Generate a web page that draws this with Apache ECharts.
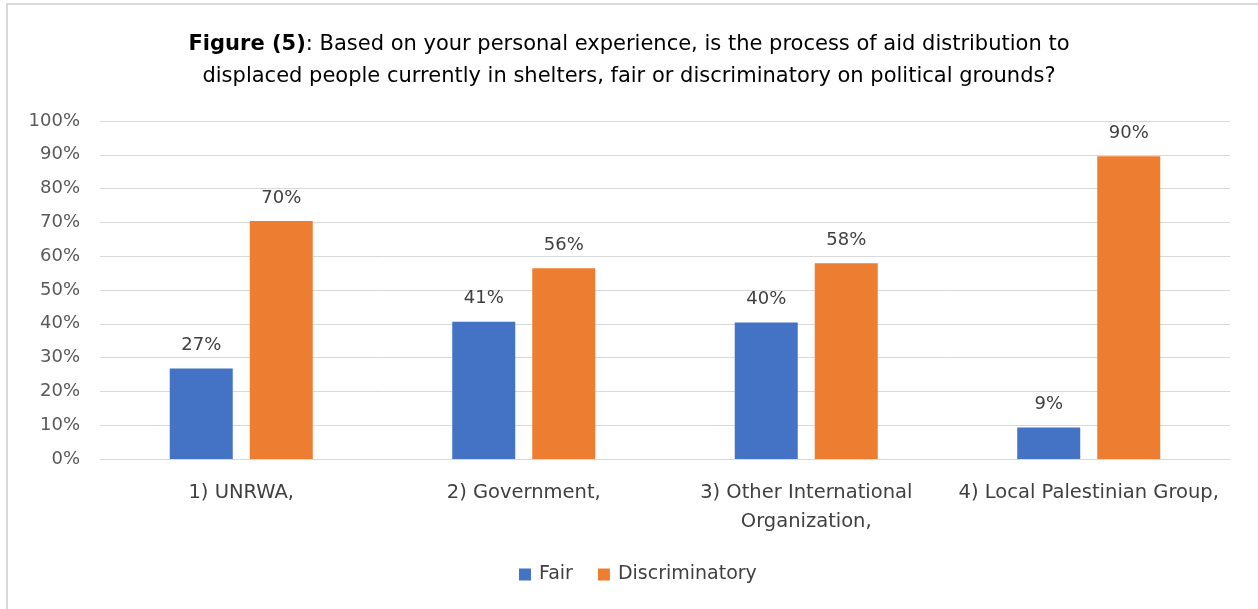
<!DOCTYPE html>
<html>
<head>
<meta charset="utf-8">
<script src="https://cdn.jsdelivr.net/npm/echarts@6/dist/echarts.min.js"></script>
<style>
html,body{margin:0;padding:0;background:#fff;overflow:hidden;}
#frame{position:absolute;left:6px;top:3px;width:1300px;height:700px;border-left:2px solid #d9d9d9;border-top:2px solid #d9d9d9;box-sizing:border-box;}
#chart{position:absolute;left:0;top:0;width:1258px;height:609px;}
</style>
</head>
<body>
<div id="frame"></div>
<div id="chart"></div>
<script>
var categories = ['1) UNRWA,', '2) Government,', '3) Other International\nOrganization,', '4) Local Palestinian Group,'];
var seriesNames = ['Fair', 'Discriminatory'];
var fairValues = [26.8, 40.6, 40.4, 9.3];
var discriminatoryValues = [70.4, 56.4, 57.9, 89.6];
var yTicks = [0, 100, 10];

var FONT = '"DejaVu Sans"';
var chart = echarts.init(document.getElementById('chart'), null, {renderer: 'canvas'});
var labelOpt = {
  show: true, position: 'top', distance: 14,
  color: '#404040', fontSize: 18, fontFamily: FONT,
  formatter: function (p) { return Math.round(p.value) + '%'; }
};
chart.setOption({
  backgroundColor: 'transparent',
  animation: false,
  title: {
    left: 'center', top: 24,
    text: '{b|Figure (5)}{n|: Based on your personal experience, is the process of aid distribution to}\n{n|displaced people currently in shelters, fair or discriminatory on political grounds?}',
    textStyle: {
      fontWeight: 'normal',
      rich: {
        b: {fontFamily: FONT, fontSize: 21, fontWeight: 'bold', color: '#000', lineHeight: 32},
        n: {fontFamily: FONT, fontSize: 21, fontWeight: 'normal', color: '#000', lineHeight: 32}
      }
    }
  },
  legend: {
    bottom: 20, left: 514,
    itemWidth: 12, itemHeight: 12, itemGap: 25,
    icon: 'rect',
    textStyle: {fontFamily: FONT, fontSize: 19, color: '#404040', padding: [0, 0, 0, 3]},
    data: seriesNames
  },
  grid: {left: 100, right: 28, top: 121, bottom: 150},
  xAxis: {
    type: 'category', data: categories,
    axisLine: {lineStyle: {color: '#d9d9d9', width: 1}},
    axisTick: {show: false},
    axisLabel: {fontFamily: FONT, fontSize: 19.5, color: '#404040', margin: 19, lineHeight: 29, interval: 0}
  },
  yAxis: {
    type: 'value', min: yTicks[0], max: yTicks[1], interval: yTicks[2],
    axisLine: {show: false}, axisTick: {show: false},
    splitLine: {lineStyle: {color: '#d9d9d9', width: 1}},
    axisLabel: {fontFamily: FONT, fontSize: 18, color: '#595959', margin: 20, formatter: '{value}%'}
  },
  series: [
    {name: seriesNames[0], type: 'bar', data: fairValues, barWidth: 63, barGap: '27%',
     itemStyle: {color: '#4472C4'}, label: labelOpt},
    {name: seriesNames[1], type: 'bar', data: discriminatoryValues, barWidth: 63, barGap: '27%',
     itemStyle: {color: '#ED7D31'}, label: labelOpt}
  ]
});
</script>
</body>
</html>
